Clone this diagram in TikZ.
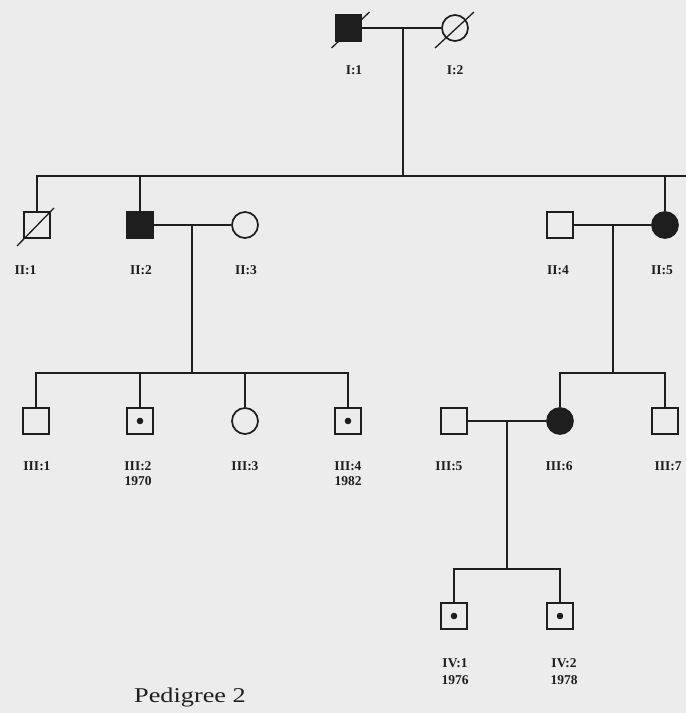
\documentclass[tikz,border=0pt]{standalone}
\usepackage{fontspec}
\setmainfont{Liberation Serif}
\definecolor{bgclr}{RGB}{236,236,236}
\definecolor{lineclr}{RGB}{30,30,30}
\begin{document}
\begin{tikzpicture}[x=1pt,y=-1pt,
  line width=1.7pt, draw=lineclr,
  male/.style={draw=lineclr, rectangle, minimum size=26pt, inner sep=0pt, line width=1.7pt},
  female/.style={draw=lineclr, circle, minimum size=26pt, inner sep=0pt, line width=1.7pt},
  aff/.style={fill=lineclr},
  carrier/.style={path picture={\fill[lineclr] (path picture bounding box.center) circle (3.3pt);}},
  lbl/.style={text=lineclr, font=\bfseries\fontsize{13.5}{15}\selectfont, inner sep=0pt, align=center},
  dec/.style={line width=1.3pt}
]
\fill[bgclr] (0,0) rectangle (686,713);
\useasboundingbox (0,0) rectangle (686,713);

% Generation I
\node[male,aff] (i1) at (348.5,28) {};
\node[female] (i2) at (455,28) {};
\draw[dec] ([shift={(-17,20)}]i1.center) coordinate (d1a) -- ([shift={(21,-16)}]i1.center) coordinate (d1b);
\draw[dec] ([shift={(-20,20)}]i2.center) coordinate (d2a) -- ([shift={(19,-16)}]i2.center) coordinate (d2b);
\node[lbl] (li1) at (354,70) {I:1};
\node[lbl] (li2) at (455,70) {I:2};

% Generation II
\node[male] (ii1) at (37,225) {};
\node[male,aff] (ii2) at (140,225) {};
\node[female] (ii3) at (245,225) {};
\node[male] (ii4) at (560,225) {};
\node[female,aff] (ii5) at (665,225) {};
\draw[dec] ([shift={(-20,21)}]ii1.center) coordinate (d3a) -- ([shift={(17,-17)}]ii1.center) coordinate (d3b);
\node[lbl] (lii1) at (25.5,270) {II:1};
\node[lbl] (lii2) at (141,270) {II:2};
\node[lbl] (lii3) at (246,270) {II:3};
\node[lbl] (lii4) at (558,270) {II:4};
\node[lbl] (lii5) at (662,270) {II:5};

% Generation III
\node[male] (iii1) at (36,421) {};
\node[male,carrier] (iii2) at (140,421) {};
\node[female] (iii3) at (245,421) {};
\node[male,carrier] (iii4) at (348,421) {};
\node[male] (iii5) at (454,421) {};
\node[female,aff] (iii6) at (560,421) {};
\node[male] (iii7) at (665,421) {};
\node[lbl,anchor=north] (liii1) at (37,461) {III:1};
\node[lbl,anchor=north] (liii2) at (138,461) {III:2\\1970};
\node[lbl,anchor=north] (liii3) at (245,461) {III:3};
\node[lbl,anchor=north] (liii4) at (348,461) {III:4\\1982};
\node[lbl,anchor=north] (liii5) at (449,461) {III:5};
\node[lbl,anchor=north] (liii6) at (559,461) {III:6};
\node[lbl,anchor=north] (liii7) at (668,461) {III:7};

% Generation IV
\node[male,carrier] (iv1) at (454,616) {};
\node[male,carrier] (iv2) at (560,616) {};
\node[lbl,anchor=north,font=\bfseries\fontsize{13.5}{17}\selectfont] (liv1) at (455,658) {IV:1\\1976};
\node[lbl,anchor=north,font=\bfseries\fontsize{13.5}{17}\selectfont] (liv2) at (564,658) {IV:2\\1978};

% Title
\node[text=lineclr, font=\fontsize{21}{24}\selectfont, inner sep=0pt, xscale=1.25] (title) at (190,697) {Pedigree 2};

% Connectors
\coordinate (m1) at (403,28);
\coordinate (s1) at (403,176);
\coordinate (s1r) at (686,176);
\draw (i1) -- (i2);
\draw (m1) -- (s1);
\draw (ii1.north) |- (s1r);
\draw (ii2.north) -- (ii2.north |- s1);
\draw (ii5.north) -- (ii5.north |- s1);

\coordinate (m2) at (192,225);
\coordinate (s2) at (192,373);
\draw (ii2) -- (ii3);
\draw (m2) -- (s2);
\draw (iii1.north) |- (s2) -| (iii4.north);
\draw (iii2.north) -- (iii2.north |- s2);
\draw (iii3.north) -- (iii3.north |- s2);

\coordinate (m3) at (613,225);
\coordinate (s3) at (613,373);
\draw (ii4) -- (ii5);
\draw (m3) -- (s3);
\draw (iii6.north) |- (s3) -| (iii7.north);

\coordinate (m4) at (507,421);
\coordinate (s4) at (507,569);
\draw (iii5) -- (iii6);
\draw (m4) -- (s4);
\draw (iv1.north) |- (s4) -| (iv2.north);
\end{tikzpicture}
\end{document}
